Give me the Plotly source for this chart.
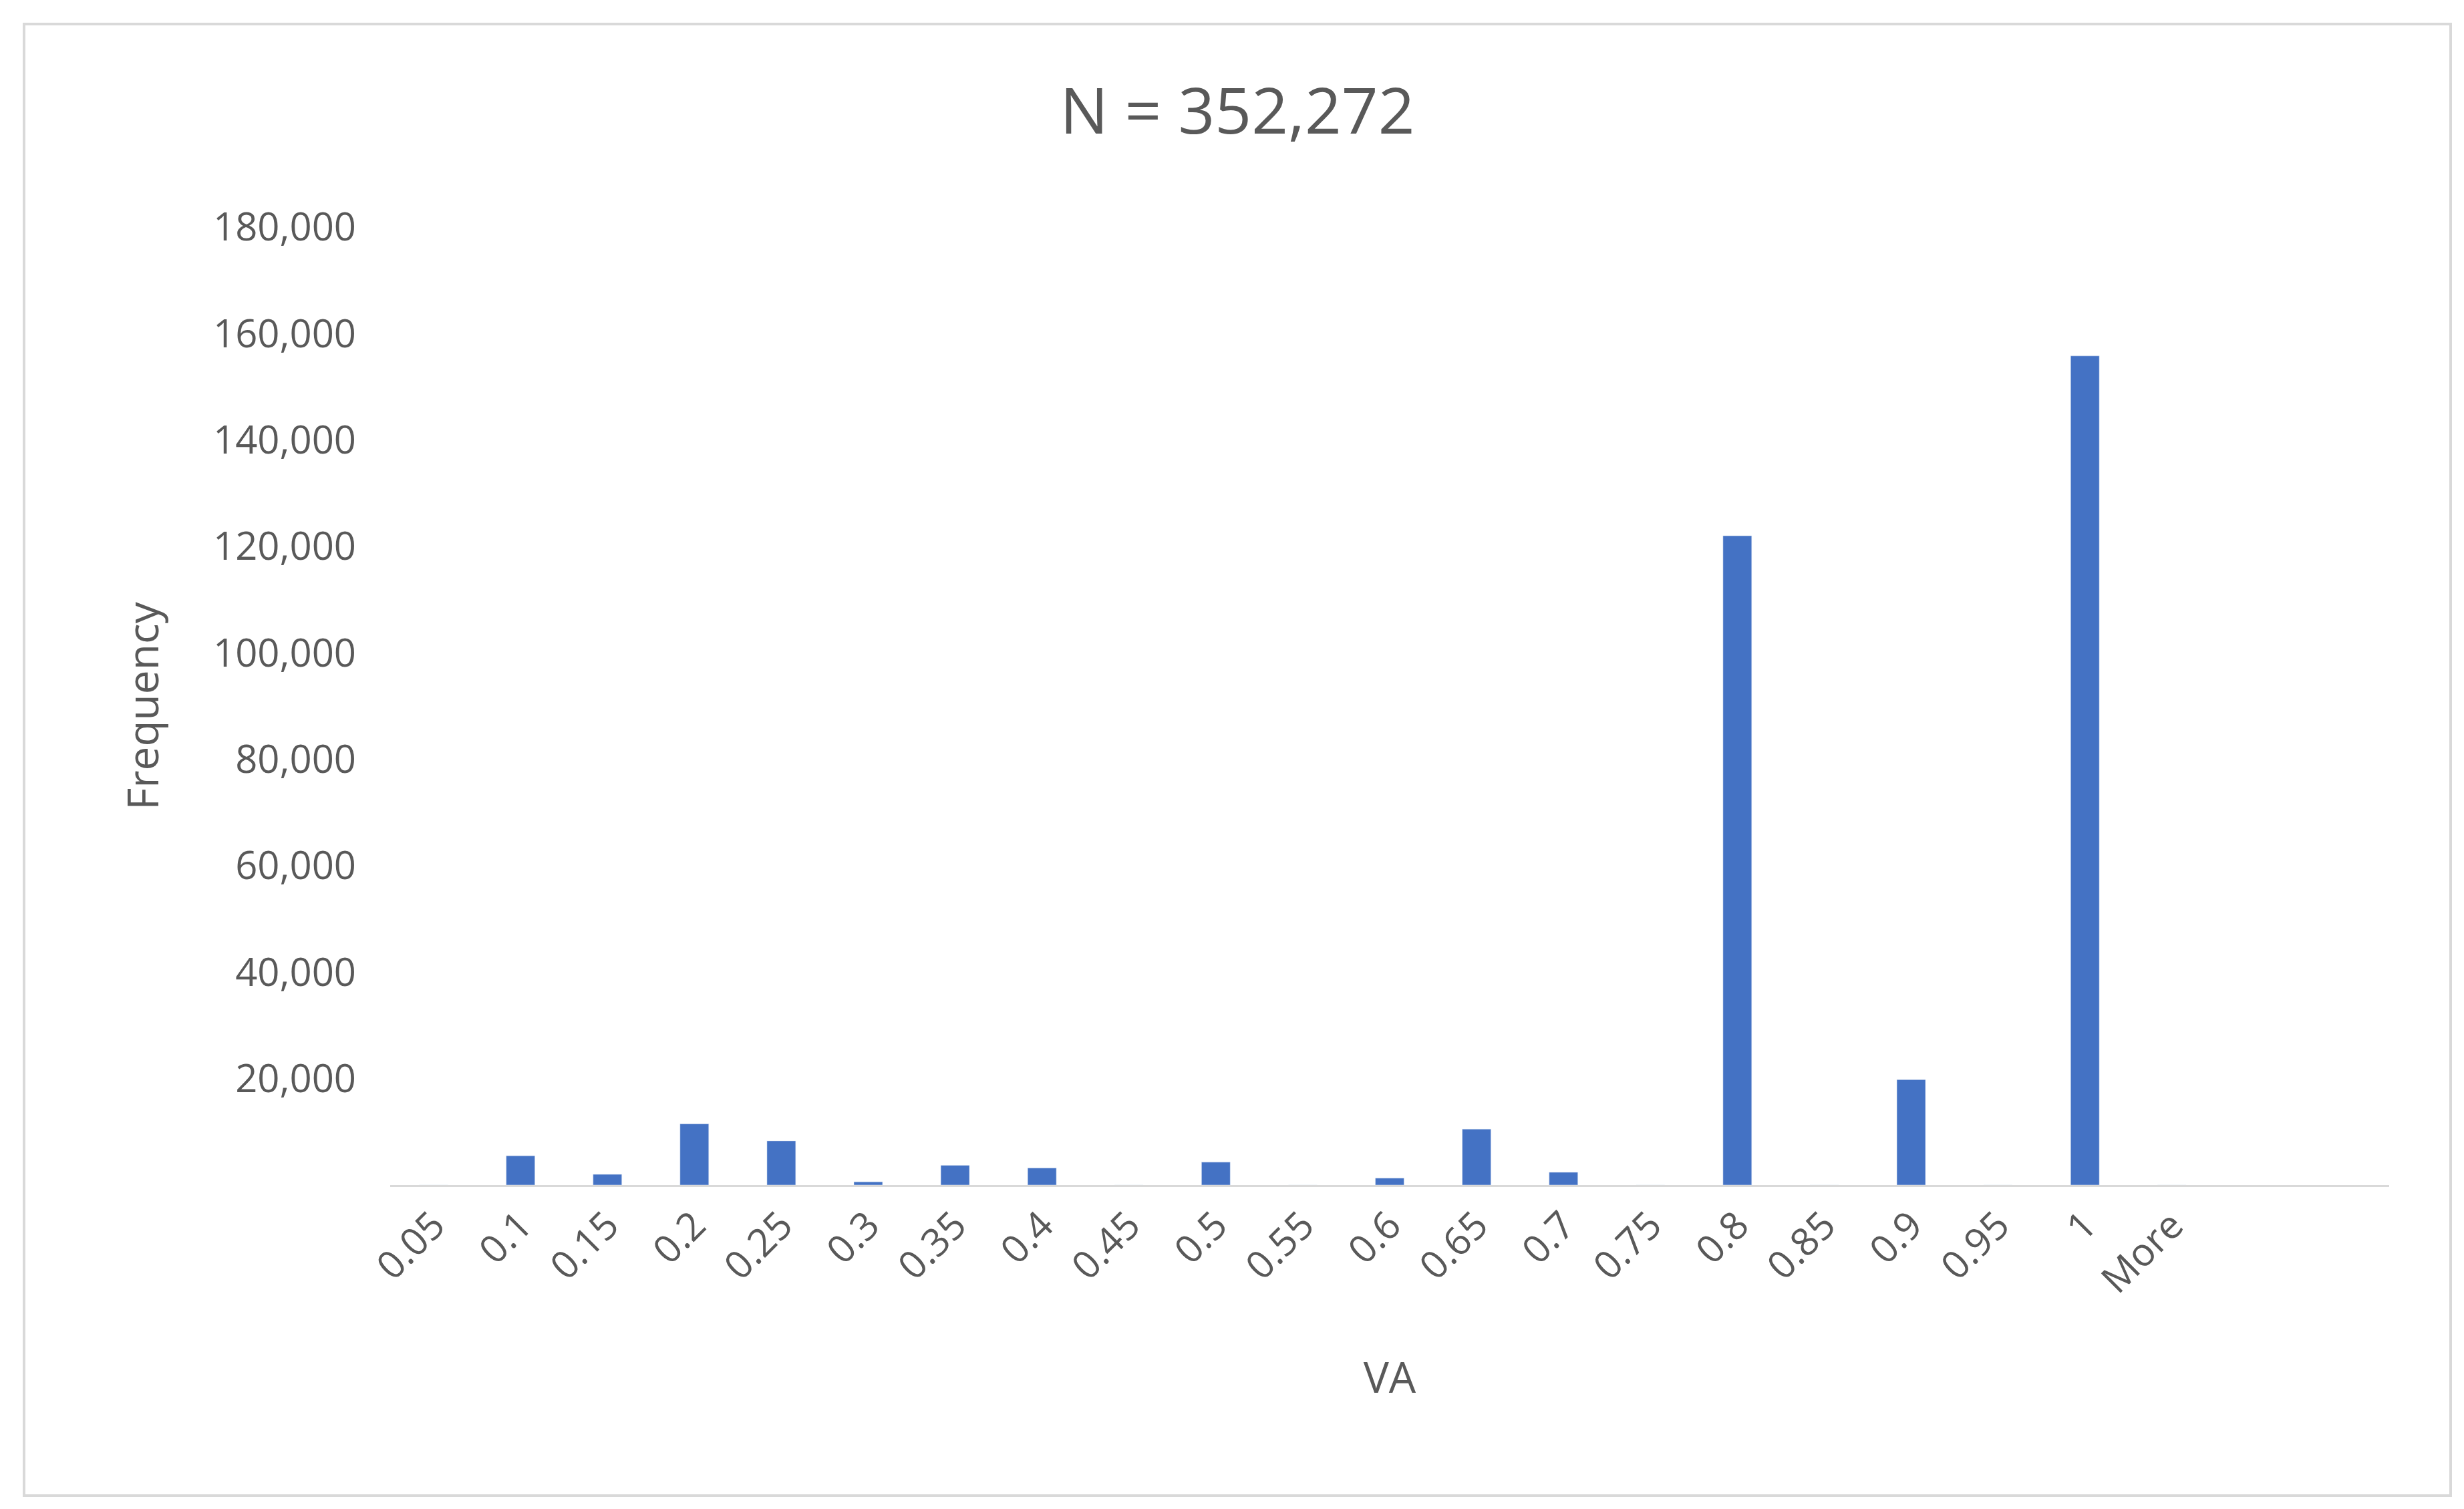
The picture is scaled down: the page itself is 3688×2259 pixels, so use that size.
import plotly.graph_objects as go

# bins (last three slots are empty in the original chart)
bins = ["0.05", "0.1", "0.15", "0.2", "0.25", "0.3", "0.35", "0.4", "0.45", "0.5",
        "0.55", "0.6", "0.65", "0.7", "0.75", "0.8", "0.85", "0.9", "0.95", "1", "More"]
freq = [0, 5500, 2000, 11500, 8300, 600, 3700, 3200, 0, 4300,
        0, 1300, 10500, 2400, 0, 122000, 0, 19800, 0, 155800, 0]
y_ticks = [20000, 40000, 60000, 80000, 100000, 120000, 140000, 160000, 180000]

pos = list(range(len(bins)))
grey = "#595959"
font = "Open Sans"

fig = go.Figure()
fig.add_trace(go.Bar(x=pos, y=freq, width=0.33, marker_color="#4472C4"))

fig.update_layout(
    width=3688, height=2259,
    paper_bgcolor="white", plot_bgcolor="white",
    margin=dict(l=576, r=120, t=332, b=493),
    showlegend=False,
    font=dict(family=font, color=grey, size=56),
    title=dict(text="N = 352,272", x=0.5, xanchor="center", y=0.93, yanchor="middle",
               font=dict(size=96, color=grey, family=font)),
)
fig.update_xaxes(
    range=[-0.5, 22.5], tickmode="array", tickvals=pos, ticktext=bins,
    tickangle=-45, showgrid=False, showline=True, linecolor="#D9D9D9", linewidth=3,
    ticks="", tickfont=dict(size=58, color=grey),
    title=dict(text="VA", font=dict(size=64, color=grey), standoff=90),
)
fig.update_yaxes(
    range=[0, 180000], tickmode="array", tickvals=y_ticks,
    ticktext=[f"{v:,}" for v in y_ticks], showgrid=False, zeroline=False,
    tickfont=dict(size=58, color=grey), ticklabelstandoff=50,
    title=dict(text="Frequency", font=dict(size=64, color=grey), standoff=60),
)
fig.add_shape(type="rect", xref="paper", yref="paper",
              x0=-576 / 2992 + 28 / 2992, x1=1 + 120 / 2992 - 28 / 2992,
              y0=-493 / 1434 + 28 / 1434, y1=1 + 332 / 1434 - 28 / 1434,
              line=dict(color="#D9D9D9", width=4))

fig.write_html("out.html")
